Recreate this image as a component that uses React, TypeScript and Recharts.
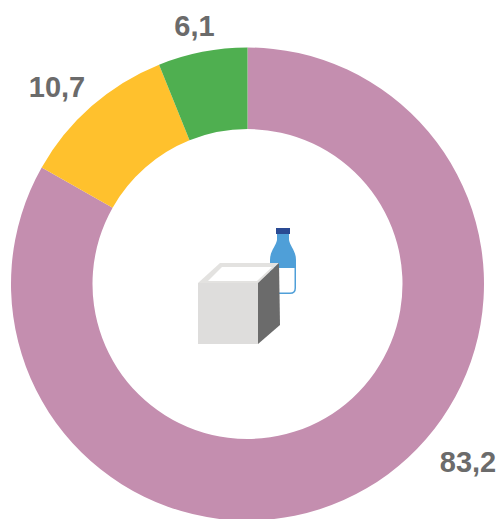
import React from 'react';
import { PieChart, Pie, Cell } from 'recharts';

const categories = ['Pink', 'Yellow', 'Green'];
const shares = [83.2, 10.7, 6.1];
const colors = ['#C48EAF', '#FFC12D', '#4FAF50'];

const data = categories.map((name, i) => ({ name, value: shares[i] }));

const CX = 247.5;
const CY = 284;

// label anchors, relative to the centre of the ring
const labelOffsets = [
    { dx: 220.5, dy: 188 },
    { dx: -190.5, dy: -187 },
    { dx: -53, dy: -248 },
];

const renderLabel = (props: any) => {
    const { index, value } = props;
    const off = labelOffsets[index];
    return (
        <text
            x={CX + off.dx}
            y={CY + off.dy}
            textAnchor="middle"
            fill="#6B6B6B"
            fontFamily="'Liberation Sans', Arial, sans-serif"
            fontWeight="bold"
            fontSize={29}
        >
            {String(value).replace('.', ',')}
        </text>
    );
};

const MilkIcon = () => (
    <svg width={503} height={519} style={{ position: 'absolute', left: 0, top: 0 }}>
        {/* bottle */}
        <path d="M277 234 L289 234 L289 240 C290 246 296 251 296 260 L296 288 Q296 294 290 294 L276 294 Q270 294 270 288 L270 260 C270 251 276 246 277 240 Z" fill="#4F9FD8" />
        <path d="M271.5 268 L294.5 268 L294.5 288 Q294.5 292.5 290 292.5 L276 292.5 Q271.5 292.5 271.5 288 Z" fill="#FFFFFF" />
        <rect x={276} y={228} width={14} height={6} fill="#2A4A93" />
        {/* carton */}
        <polygon points="198,283 220,263 279,263 258,283" fill="#E3E2E0" />
        <polygon points="208,281 222,267 272,267 257,281" fill="#FFFFFF" />
        <rect x={198} y={283} width={60} height={61} fill="#DEDDDC" />
        <polygon points="258,283 279,263 280,325 258,344" fill="#6B6B6B" />
    </svg>
);

export default function App() {
    return (
        <div style={{ position: 'absolute', left: 0, top: 0, width: 503, height: 519, overflow: 'hidden', background: '#fff' }}>
            <PieChart width={503} height={519} margin={{ top: 0, right: 0, bottom: 0, left: 0 }}>
                <Pie
                    data={data}
                    dataKey="value"
                    cx={CX}
                    cy={CY}
                    innerRadius={155}
                    outerRadius={236.5}
                    startAngle={90}
                    endAngle={-270}
                    stroke="none"
                    label={renderLabel}
                    labelLine={false}
                    isAnimationActive={false}
                >
                    {data.map((d, i) => (
                        <Cell key={d.name} fill={colors[i]} />
                    ))}
                </Pie>
            </PieChart>
            <MilkIcon />
        </div>
    );
}
